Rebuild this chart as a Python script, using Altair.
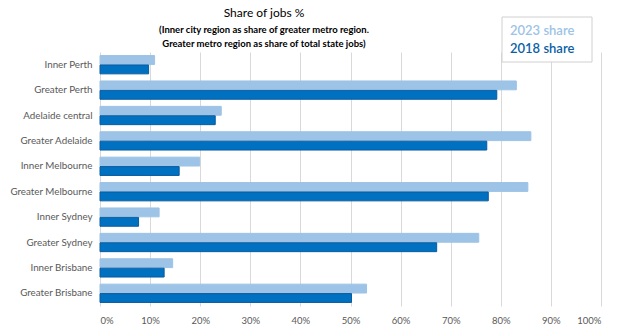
import altair as alt
import pandas as pd

regions = ["Inner Perth", "Greater Perth", "Adelaide central", "Greater Adelaide",
           "Inner Melbourne", "Greater Melbourne", "Inner Sydney", "Greater Sydney",
           "Inner Brisbane", "Greater Brisbane"]
share_2023 = [10.9, 83.1, 24.2, 86.0, 19.9, 85.4, 11.8, 75.6, 14.5, 53.2]
share_2018 = [9.7, 79.2, 23.0, 77.2, 15.8, 77.5, 7.7, 67.2, 12.8, 50.2]
series = ["2023 share", "2018 share"]
colors = ["#9DC3E6", "#0070C0"]
strokes = ["#9DC3E6", "#0A5C9E"]
legend_colors = ["#9DC3E6", "#0B5FA5"]
title_text = "Share of jobs %"
subtitle_lines = ["(Inner city region as share of greater metro region.",
                  "Greater  metro region as share of total state  jobs)"]

rows = []
for r, a, b in zip(regions, share_2023, share_2018):
    rows.append({"region": r, "series": series[0], "value": a / 100})
    rows.append({"region": r, "series": series[1], "value": b / 100})
df = pd.DataFrame(rows)

FONT = "Lato"

bars = alt.Chart(df).mark_bar(strokeWidth=1).encode(
    x=alt.X("value:Q", scale=alt.Scale(domain=[0, 1]),
            axis=alt.Axis(format="%", values=[i / 10 for i in range(11)], title=None,
                          grid=True, gridColor="#D9D9D9", domain=False, ticks=False,
                          labelColor="#595959", labelFontSize=9.5, labelFont=FONT, labelPadding=9)),
    y=alt.Y("region:N", sort=regions,
            scale=alt.Scale(paddingInner=0.28, paddingOuter=0.14),
            axis=alt.Axis(title=None, ticks=False, domain=False, labelColor="#595959",
                          labelFontSize=9.8, labelFont=FONT, labelPadding=8)),
    yOffset=alt.YOffset("series:N", sort=series, scale=alt.Scale(paddingInner=0.06)),
    color=alt.Color("series:N", sort=series, scale=alt.Scale(domain=series, range=colors), legend=None),
    stroke=alt.Stroke("series:N", sort=series, scale=alt.Scale(domain=series, range=strokes), legend=None),
)

legend_box = alt.Chart(pd.DataFrame({"a": [0]})).mark_rect(
    fill="white", stroke="#D0D0D0", strokeWidth=1
).encode(x=alt.value(402), x2=alt.value(492), y=alt.value(-35), y2=alt.value(10))

leg_df = pd.DataFrame({"label": series, "color": legend_colors, "dy": [-21.5, -3.5]})
legend_text = alt.Chart(leg_df).mark_text(
    align="left", baseline="middle", fontSize=13, font=FONT, fontWeight=600
).encode(
    x=alt.value(410),
    y=alt.Y("dy:Q", scale=None),
    text="label:N",
    color=alt.Color("color:N", scale=None),
)

title_mark = alt.Chart(pd.DataFrame({"t": [title_text]})).mark_text(
    align="center", baseline="middle", fontSize=12, font=FONT, color="#000000"
).encode(x=alt.value(164), y=alt.value(-39), text="t:N")

sub_df = pd.DataFrame({"t": subtitle_lines, "dy": [-22, -8]})
subtitle_mark = alt.Chart(sub_df).mark_text(
    align="center", baseline="middle", fontSize=9.5, font=FONT, fontWeight="bold", color="#000000"
).encode(x=alt.value(164), y=alt.Y("dy:Q", scale=None), text="t:N")

chart = alt.layer(bars, legend_box, legend_text, title_mark, subtitle_mark).properties(
    width=501, height=254,
    autosize=alt.AutoSizeParams(type="none"),
    padding={"left": 100, "top": 52, "right": 17, "bottom": 22},
).configure_view(stroke=None)

chart.save("out.html", embed_options={"renderer": "svg", "actions": False})
